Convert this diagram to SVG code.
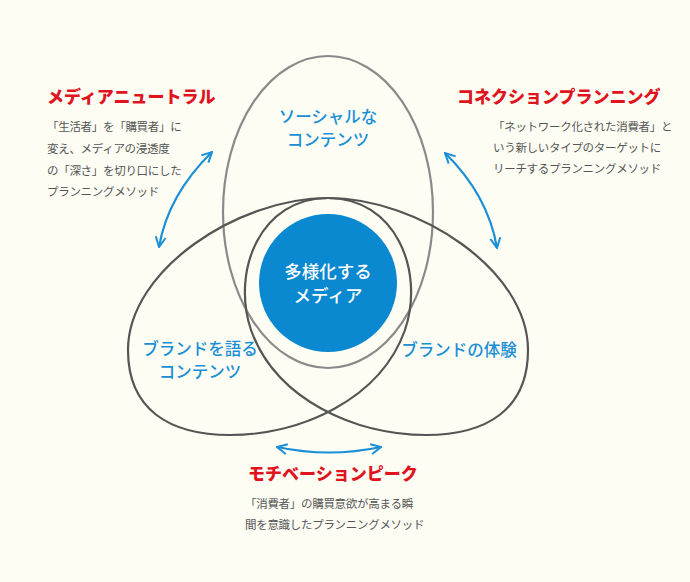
<svg xmlns="http://www.w3.org/2000/svg" width="690" height="582" viewBox="0 0 690 582">
<style>
.h{font-family:"Noto Sans CJK JP",sans-serif;font-weight:900;font-size:17px;fill:#e0141e}
.b{font-family:"Noto Sans CJK JP",sans-serif;font-size:11.5px;fill:#555;letter-spacing:-0.3px}
.l{font-family:"Noto Sans CJK JP",sans-serif;font-weight:500;font-size:16.5px;fill:#1a8fd6;text-anchor:middle}
.w{font-family:"Noto Sans CJK JP",sans-serif;font-weight:500;font-size:17.5px;fill:#fff;text-anchor:middle}
.arr{fill:none;stroke:#1a8fd6;stroke-width:2.2;marker-start:url(#a);marker-end:url(#a)}
</style>
<defs>
<marker id="a" viewBox="0 0 12 12" refX="11" refY="6" markerWidth="12" markerHeight="12" markerUnits="userSpaceOnUse" orient="auto-start-reverse">
<polyline points="1,1 11,6 1,11" fill="none" stroke="#1a8fd6" stroke-width="2"/>
</marker>
</defs>
<rect width="690" height="582" fill="#fdfdf4"/>
<g id="top-ellipse"><ellipse cx="328" cy="212" rx="105" ry="156" fill="none" stroke="#8a8a8a" stroke-width="2.2"/>
<text class="l" x="328" y="123">ソーシャルな</text><text class="l" x="328" y="146">コンテンツ</text></g>
<g id="left-egg"><path d="M328,198 C238,198 128,270 128,350 C128,410 170,435 230,435 C300,435 380,400 405,330 C425,270 395,198 328,198Z" fill="none" stroke="#555" stroke-width="2.2"/>
<text class="l" x="200" y="355">ブランドを語る</text><text class="l" x="200" y="378">コンテンツ</text></g>
<g id="right-egg"><path d="M328,198 C418,198 528,270 528,350 C528,410 486,435 426,435 C356,435 276,400 251,330 C231,270 261,198 328,198Z" fill="none" stroke="#555" stroke-width="2.2"/>
<text class="l" x="459" y="356">ブランドの体験</text></g>
<g id="center"><circle cx="328" cy="283" r="69" fill="#0a88d0"/>
<text class="w" x="328" y="278">多様化する</text><text class="w" x="328" y="302">メディア</text></g>
<g id="connectors">
<path class="arr" d="M212,152 Q168,195 159,247"/>
<path class="arr" d="M445,153 Q488,195 497,248"/>
<path class="arr" d="M277,447 Q329,458 381,447"/>
</g>
<g id="media-neutral"><text class="h" x="47" y="103">メディアニュートラル</text>
<text class="b" x="47" y="131">「生活者」を「購買者」に</text><text class="b" x="47" y="153">変え、メディアの浸透度</text><text class="b" x="47" y="175">の「深さ」を切り口にした</text><text class="b" x="47" y="196">プランニングメソッド</text></g>
<g id="connection-planning"><text class="h" x="457" y="103">コネクションプランニング</text>
<text class="b" x="493" y="131">「ネットワーク化された消費者」と</text><text class="b" x="493" y="152">いう新しいタイプのターゲットに</text><text class="b" x="493" y="173">リーチするプランニングメソッド</text></g>
<g id="motivation-peak"><text class="h" x="248" y="480">モチベーションピーク</text>
<text class="b" x="245" y="508">「消費者」の購買意欲が高まる瞬</text><text class="b" x="245" y="529">間を意識したプランニングメソッド</text></g>
</svg>
